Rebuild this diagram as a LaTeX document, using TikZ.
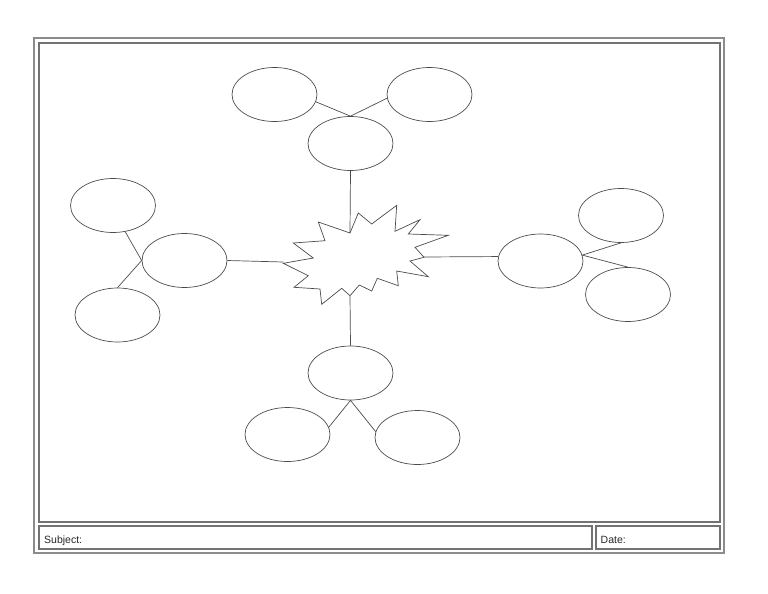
\documentclass[tikz,border=0pt]{standalone}
\usepackage{fontspec}
\setmainfont{Liberation Sans}
\usepackage{tikz}
\usetikzlibrary{shapes,positioning}

\tikzset{
    bubble/.style={draw=black!70, line width=0.7pt, ellipse, minimum width=85pt, minimum height=54pt, inner sep=0pt},
    link/.style={draw=black!70, line width=0.7pt},
    frameline/.style={draw=black!55, line width=2pt},
    label/.style={font=\fontsize{10.5}{12}\selectfont, text=black!85, inner sep=0pt}
}

\begin{document}
\begin{tikzpicture}[x=1pt,y=-1pt]
    \useasboundingbox (0,0) rectangle (768,594);
    % Draw frame
    \draw[draw=black!45, line width=1.4pt] (34,38) rectangle (724,553);
    \draw[frameline] (38.5,43) rectangle (719.5,522);
    \draw[frameline] (38.5,526) rectangle (592,549);
    \draw[frameline] (595.5,526) rectangle (719.5,549);
    \node[label, anchor=base west] (subject) at (44,543) {Subject:};
    \node[label, anchor=base west] (date) at (600.5,543) {Date:};
    % Draw star
    \draw[link, fill=white] (350,233) -- (358.3,213) -- (371.7,224) -- (396.7,205.3) -- (395,231.3)
        -- (420,219.7) -- (408.3,234) -- (448.3,235.3) -- (415,247.3) -- (424,257.3)
        -- (410,261) -- (428.3,276.7) -- (396.7,271) -- (398.3,285.7) -- (377.3,278.3)
        -- (371.7,291) -- (359.3,285) -- (350,295.7) -- (341.7,288.3) -- (321.7,304.3)
        -- (320,289) -- (294,287.3) -- (308.3,275.7) -- (283.3,263.3) -- (313.3,258)
        -- (293.3,243) -- (325,240.7) -- (318.3,222) -- cycle;
    \coordinate (star-n) at (350,233);
    \coordinate (star-s) at (350,295.7);
    \coordinate (star-w) at (283.3,262);
    \coordinate (star-e) at (424,257);
    % Bubbles
    \node[bubble] (topM) at (350.5,143.5) {};
    \node[bubble] (topL) at (274.5,94.5) {};
    \node[bubble] (topR) at (429.5,94.5) {};
    \node[bubble] (leftM) at (184.5,260.5) {};
    \node[bubble] (leftU) at (113,205.5) {};
    \node[bubble] (leftD) at (117.5,315) {};
    \node[bubble] (rightM) at (540.5,261) {};
    \node[bubble] (rightU) at (621,215.5) {};
    \node[bubble] (rightD) at (628,294.5) {};
    \node[bubble] (botM) at (350.5,373) {};
    \node[bubble] (botL) at (287.5,434.5) {};
    \node[bubble] (botR) at (417.5,437.5) {};
    % Links
    \draw[link] (topM.south) -- (star-n);
    \draw[link] (topL.350) -- (topM.north) -- (topR.185);
    \draw[link] (leftM.east) -- (star-w);
    \draw[link] (leftU.295) -- (leftM.west) -- (leftD.north);
    \draw[link] (star-e) -- (rightM.174);
    \draw[link] (rightU.south) -- (rightM.8) -- (rightD.north);
    \draw[link] (star-s) -- (botM.north);
    \draw[link] (botL.10) -- (botM.south) -- (botR.172);
\end{tikzpicture}
\end{document}
